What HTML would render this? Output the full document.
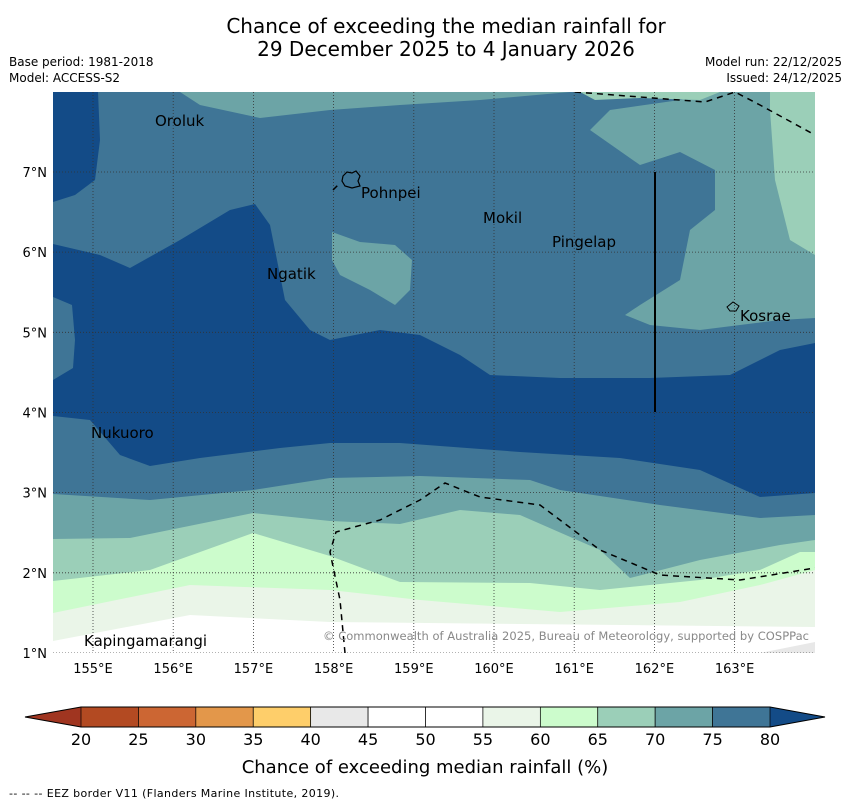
<!DOCTYPE html>
<html><head><meta charset="utf-8"><style>
body{margin:0;background:#fff;font-family:"DejaVu Sans","Liberation Sans",sans-serif}
svg text{font-family:"DejaVu Sans","Liberation Sans",sans-serif}
</style></head><body>
<svg width="850" height="804" viewBox="0 0 850 804" xmlns="http://www.w3.org/2000/svg">
<text x="446" y="33" font-size="20" text-anchor="middle">Chance of exceeding the median rainfall for</text>
<text x="446" y="56" font-size="20" text-anchor="middle">29 December 2025 to 4 January 2026</text>
<text x="9" y="66" font-size="12">Base period: 1981-2018</text>
<text x="9" y="82" font-size="12">Model: ACCESS-S2</text>
<text x="842" y="66" font-size="12" text-anchor="end">Model run: 22/12/2025</text>
<text x="842" y="82" font-size="12" text-anchor="end">Issued: 24/12/2025</text>
<defs><clipPath id="mc"><rect x="53" y="92" width="762" height="561"/></clipPath></defs>
<g clip-path="url(#mc)">
<rect x="53" y="92" width="762" height="561" fill="#ffffff"/>
<polygon fill="#e8e8e8" points="760,653 815,642 815,653"/>
<polygon fill="#eaf5e8" points="53,641 190,615 330,622 815,627 815,92 53,92"/>
<polygon fill="#ccfccc" points="53,613 190,585 330,590 420,600 560,612 680,602 760,585 815,570 815,92 53,92"/>
<polygon fill="#9bcfb8" points="53,581 150,570 253,533 330,556 400,582 530,583 600,590 700,580 760,570 800,552 815,552 815,92 53,92"/>
<polygon fill="#6ca4a6" points="53,539 130,538 253,513 330,521 400,524 460,510 520,515 600,550 630,578 700,560 780,545 815,540 815,92 53,92"/>
<polygon fill="#3f7596" points="53,494 150,500 253,490 330,478 420,476 530,480 560,490 660,505 760,518 815,515 815,318 780,320 700,330 650,325 625,315 640,305 680,280 690,230 715,210 715,170 680,152 640,165 590,130 610,110 680,100 720,92 570,92 480,100 400,105 330,110 260,118 200,105 180,92 53,92"/>
<polygon fill="#6ca4a6" points="332,232 360,242 395,245 412,260 410,290 395,305 370,290 340,275 332,260"/>
<polygon fill="#9bcfb8" points="700,92 770,92 770,110 775,180 790,240 815,255 815,92"/>
<polygon fill="#9bcfb8" points="580,92 720,92 700,100 640,98 595,100"/>
<polygon fill="#134b87" points="53,92 98,92 100,140 95,180 75,195 53,202"/>
<polygon fill="#134b87" points="53,244 100,255 130,268 180,240 230,210 255,204 270,225 285,300 310,330 330,340 380,330 420,335 460,355 490,375 560,378 650,378 730,375 780,350 815,343 815,493 760,497 700,470 620,458 520,452 400,443 330,443 280,448 200,458 150,466 120,455 90,420 53,416"/>
<polygon fill="#3f7596" points="53,297 72,305 75,340 73,368 53,380"/>
<g id="grid" stroke="#333" stroke-width="0.8" stroke-dasharray="1,2"></g>
<g fill="none" stroke="#000" stroke-width="1.5" stroke-dasharray="6,5">
<polyline points="345,653 340,600 330,552 336,532 380,520 420,500 445,483 480,497 540,505 560,520 600,550 660,575 740,580 815,568"/>
<polyline points="575,92 705,102 735,92 760,105 815,135"/>
<polyline points="333,190 340,183"/>
</g>
<line x1="655" y1="172" x2="655" y2="412" stroke="#000" stroke-width="2"/>
<path d="M343,176 L347,172 L352,173 L356,171 L360,176 L358,181 L360,186 L352,188 L345,186 L342,181 Z" fill="none" stroke="#000" stroke-width="1.2"/>
<path d="M727,307 L733,302 L739,306 L736,311 L730,311 Z" fill="none" stroke="#000" stroke-width="1"/>
<g font-size="15" fill="#000">
<text x="155" y="126">Oroluk</text><text x="361" y="198">Pohnpei</text>
<text x="483" y="223">Mokil</text><text x="552" y="247">Pingelap</text>
<text x="267" y="279">Ngatik</text><text x="740" y="321">Kosrae</text>
<text x="91" y="438">Nukuoro</text><text x="84" y="646">Kapingamarangi</text>
</g>
<text x="809" y="640" font-size="11.5" fill="#888" text-anchor="end" textLength="486">© Commonwealth of Australia 2025, Bureau of Meteorology, supported by COSPPac</text>
</g>
<g id="axes" font-size="13"></g>
<g id="cbar"></g>
<text x="425" y="773" font-size="18" text-anchor="middle">Chance of exceeding median rainfall (%)</text>
<text x="9" y="797" font-size="11" textLength="330">--  --  -- EEZ border V11 (Flanders Marine Institute, 2019).</text>
</svg>
<script>
const lonTicks=[155,156,157,158,159,160,161,162,163];
const latTicks=[1,2,3,4,5,6,7];
const cbarBounds=[20,25,30,35,40,45,50,55,60,65,70,75,80];
const cbarColors=["#b34a22","#cc6633","#e3974a","#fece6a","#e8e8e8","#ffffff","#ffffff","#eaf5e8","#ccfccc","#9bcfb8","#6ca4a6","#3f7596"];
const NS="http://www.w3.org/2000/svg";
const lx=l=>93+(l-155)*80.2, ly=l=>653-(l-1)*80.17;
const cx=v=>81+(v-20)*(689/60);
const grid=document.getElementById('grid'),axes=document.getElementById('axes'),cb=document.getElementById('cbar');
function mk(t,a,p){const e=document.createElementNS(NS,t);for(const k in a)e.setAttribute(k,a[k]);p.appendChild(e);return e;}
lonTicks.forEach(l=>{const g=mk('line',{x1:lx(l),x2:lx(l),y1:92,y2:653},grid);


const t=mk('text',{x:lx(l),y:673,'text-anchor':'middle'},axes);t.textContent=l+'°E';

});
latTicks.forEach(l=>{const g=mk('line',{x1:53,x2:815,y1:ly(l),y2:ly(l)},grid);


const t=mk('text',{x:47,y:ly(l)+5,'text-anchor':'end'},axes);t.textContent=l+'°N';

});
mk('polygon',{points:`25,717 81,707 81,727`,fill:'#a03520',stroke:'none'},cb);
mk('polygon',{points:`770,707 825,717 770,727`,fill:'#134b87',stroke:'none'},cb);
cbarColors.forEach((c,i)=>{const r=mk('rect',{x:cx(cbarBounds[i]),y:707,width:cx(cbarBounds[i+1])-cx(cbarBounds[i]),height:20,fill:c,stroke:'#000','stroke-width':0.7},cb);

});
mk('polygon',{points:`25,717 81,707 770,707 825,717 770,727 81,727`,fill:'none',stroke:'#000','stroke-width':1},cb);
cbarBounds.forEach(v=>{const t=mk('text',{x:cx(v),y:745,'text-anchor':'middle','font-size':16},cb);t.textContent=v;

});
</script>
</body></html>
